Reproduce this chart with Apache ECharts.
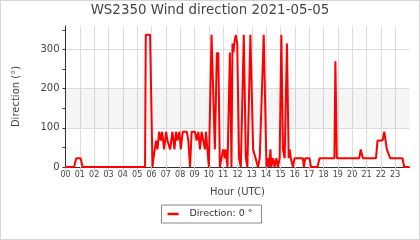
<!DOCTYPE html>
<html><head><meta charset="utf-8">
<script src="https://cdn.jsdelivr.net/npm/echarts@6/dist/echarts.min.js"></script>
<style>
html,body{margin:0;padding:0;background:#fff;}
#c{width:420px;height:240px;box-sizing:border-box;border:1px solid #d4d4d4;}
</style></head>
<body><div id="c"></div>
<script>
const titleText = 'WS2350 Wind direction 2021-05-05';
const seriesName = 'Direction: 0 °';
const hourLabels = ['00','01','02','03','04','05','06','07','08','09','10','11','12','13','14','15','16','17','18','19','20','21','22','23'];
const yTicks = [0, 100, 200, 300];
const yMinorTicks = [0, 50, 100, 150, 200, 250, 300, 350];
const band = [100, 200];
const hours = [0,0.6,0.75,1.05,1.2,5.55,5.6,5.9,6.07,6.14,
  6.32,6.42,6.53,6.65,6.74,6.88,7.02,7.11,7.30,7.46,
  7.60,7.71,7.81,7.95,8.04,8.18,8.46,8.57,8.69,8.80,
  9.03,9.15,9.27,9.38,9.50,9.61,9.73,9.80,9.90,10.0,
  10.19,10.42,10.56,10.61,10.66,10.77,11.0,11.12,11.17,11.30,
  11.47,11.58,11.65,11.72,11.77,11.88,11.98,12.11,12.23,12.44,
  12.58,12.69,12.90,13.09,13.43,13.55,13.83,14.02,14.13,14.2,
  14.3,14.36,14.48,14.59,14.71,14.82,14.94,15.06,15.17,15.29,
  15.45,15.57,15.64,15.72,15.87,15.98,16.56,16.63,16.73,17.03,
  17.12,17.58,17.72,18.76,18.83,18.93,20.5,20.6,20.65,20.75,
  21.66,21.77,22.12,22.24,22.35,22.42,22.54,22.65,23.51,23.63,
  24.0];
const direction = [0,0,22.5,22.5,0,0,337.5,337.5,0,22.5,
  67.5,45,90,67.5,90,45,90,67.5,45,90,
  45,90,67.5,90,45,90,90,67.5,0,90,
  90,67.5,90,45,90,67.5,45,90,45,0,
  337.5,45,292.5,270,292.5,0,45,22.5,45,0,
  292.5,0,315,292.5,315,337.5,315,22.5,0,337.5,
  22.5,0,337.5,45,0,22.5,337.5,0,22.5,0,
  45,0,22.5,0,22.5,0,22.5,337.5,45,22.5,
  315,22.5,45,22.5,0,22.5,22.5,0,22.5,22.5,
  0,0,22.5,22.5,270,22.5,22.5,45,45,22.5,
  22.5,67.5,67.5,90,90,45,45,22.5,22.5,0,
  0];

const font = 'DejaVu Sans';
const chart = echarts.init(document.getElementById('c'), null, {renderer: 'canvas'});
chart.setOption({
  animation: false,
  backgroundColor: '#fff',
  title: {
    text: titleText, left: 'center', top: 3, padding: 0,
    textStyle: {fontFamily: font, fontSize: 13.4, fontWeight: 'normal', color: '#444'}
  },
  legend: {
    data: [seriesName], left: 'center', top: 204,
    borderColor: '#888', borderWidth: 1, borderRadius: 0, padding: [4, 9, 4, 6],
    icon: 'rect', itemWidth: 11, itemHeight: 2.5,
    textStyle: {fontFamily: font, fontSize: 9.5, color: '#333', padding: [0, 0, 0, 6]}
  },
  grid: {left: 64.5, right: 9.5, top: 25, bottom: 72},
  xAxis: [{
    type: 'value', min: 0, max: 24, interval: 1,
    name: 'Hour (UTC)', nameLocation: 'middle', nameGap: 20,
    nameTextStyle: {fontFamily: font, fontSize: 10, color: '#444'},
    axisLine: {show: true, lineStyle: {color: '#333', width: 1}},
    axisTick: {show: false},
    axisLabel: {fontFamily: font, fontSize: 8, color: '#444', margin: 4,
      showMaxLabel: false, formatter: v => hourLabels[v] !== undefined ? hourLabels[v] : ''},
    splitLine: {show: true, showMaxLine: false, lineStyle: {color: '#dddddd', width: 1}}
  }, {
    type: 'value', min: 0, max: 24, interval: 1, position: 'top',
    axisLine: {show: false},
    axisTick: {show: true, inside: true, length: 4, lineStyle: {color: '#c8c8c8'},
      customValues: hourLabels.map((_, i) => i)},
    axisLabel: {show: false}, splitLine: {show: false}
  }],
  yAxis: [{
    type: 'value', min: 0, max: 360, interval: 100,
    name: 'Direction (°)', nameLocation: 'middle', nameGap: 44,
    nameTextStyle: {fontFamily: font, fontSize: 10, color: '#444'},
    axisLine: {show: true, lineStyle: {color: '#333', width: 1}},
    axisTick: {show: false},
    axisLabel: {fontFamily: font, fontSize: 10, color: '#444', margin: 6, showMaxLabel: false},
    splitLine: {show: true, showMinLine: false, showMaxLine: false, lineStyle: {color: '#dddddd', width: 1}}
  }, {
    type: 'value', min: 0, max: 360, interval: 50, position: 'left',
    axisLine: {show: false},
    axisTick: {show: true, length: 3, lineStyle: {color: '#333'}, customValues: yMinorTicks},
    axisLabel: {show: false}, splitLine: {show: false}
  }],
  series: [{
    name: seriesName, type: 'line', xAxisIndex: 0, yAxisIndex: 0,
    data: hours.map((h, i) => [h, direction[i]]),
    showSymbol: false, symbol: 'none',
    lineStyle: {color: '#ff0000', width: 2},
    itemStyle: {color: '#ff0000'},
    markArea: {silent: true, itemStyle: {color: 'rgba(0,0,0,0.04)'},
      data: [[{yAxis: band[0]}, {yAxis: band[1]}]]}
  }]
});
</script></body></html>
